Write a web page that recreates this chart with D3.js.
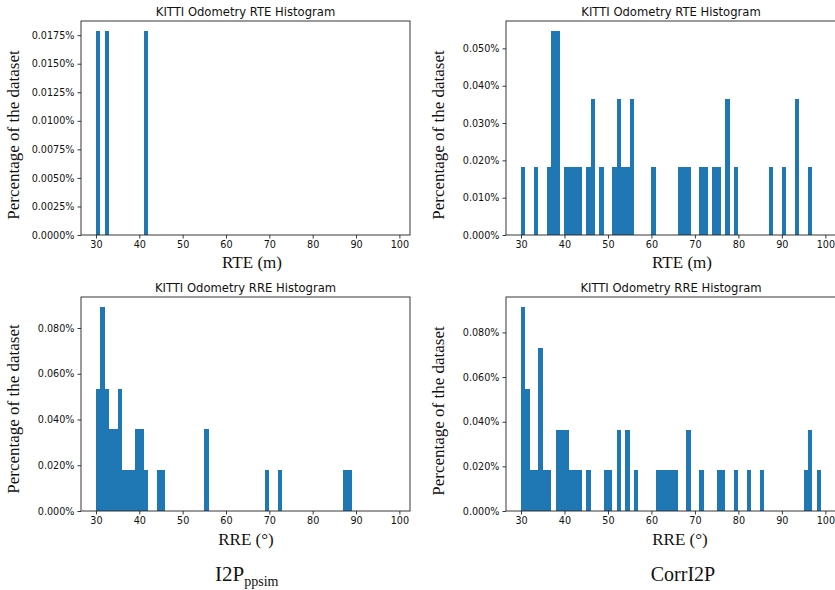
<!DOCTYPE html>
<html>
<head>
<meta charset="utf-8">
<script src="https://cdn.jsdelivr.net/npm/d3@7"></script>
<style>
  html, body { margin: 0; padding: 0; background: #fff; }
  svg { display: block; }
</style>
</head>
<body>
<svg id="chart" width="835" height="590"></svg>
<script>
// ---------- DATA (bin left edges, bin width 1, values in % of dataset) ----------
const rteI2PBins   = [30, 32, 41];
const rteI2PPct    = [0.01785, 0.01785, 0.01785];

const rteCorrBins  = [30, 33, 36, 37, 38, 40, 41, 42, 43, 45, 46, 48, 51, 52, 53, 54, 55, 60,
                      66, 67, 68, 71, 72, 74, 75, 77, 79, 87, 90, 93, 96];
const rteCorrPct   = [0.0182, 0.0182, 0.0182, 0.0546, 0.0546, 0.0182, 0.0182, 0.0182, 0.0182, 0.0182,
                      0.0364, 0.0182, 0.0182, 0.0364, 0.0182, 0.0182, 0.0364, 0.0182,
                      0.0182, 0.0182, 0.0182, 0.0182, 0.0182, 0.0182, 0.0182, 0.0364, 0.0182,
                      0.0182, 0.0182, 0.0364, 0.0182];

const rreI2PBins   = [30, 31, 32, 33, 34, 35, 36, 37, 38, 39, 40, 41, 44, 45, 55, 69, 72, 87, 88];
const rreI2PPct    = [0.0535, 0.0891, 0.0535, 0.0357, 0.0357, 0.0535, 0.0178, 0.0178, 0.0178,
                      0.0357, 0.0357, 0.0178, 0.0178, 0.0178, 0.0357, 0.0178, 0.0178, 0.0178, 0.0178];

const rreCorrBins  = [30, 31, 32, 33, 34, 35, 36, 38, 39, 40, 41, 42, 43, 45, 49, 50, 52, 54, 56,
                      61, 62, 63, 64, 65, 68, 71, 75, 76, 79, 82, 85, 95, 96, 98];
const rreCorrPct   = [0.0913, 0.0548, 0.0183, 0.0183, 0.0730, 0.0183, 0.0183, 0.0365, 0.0365, 0.0365,
                      0.0183, 0.0183, 0.0183, 0.0183, 0.0183, 0.0183, 0.0365, 0.0365, 0.0183,
                      0.0183, 0.0183, 0.0183, 0.0183, 0.0183, 0.0365, 0.0183, 0.0183, 0.0183,
                      0.0183, 0.0183, 0.0183, 0.0183, 0.0365, 0.0183];

const xTicks       = [30, 40, 50, 60, 70, 80, 90, 100];
const yTicksRteI2P = [0, 0.0025, 0.005, 0.0075, 0.01, 0.0125, 0.015, 0.0175];
const yTicksRteCor = [0, 0.01, 0.02, 0.03, 0.04, 0.05];
const yTicksRre    = [0, 0.02, 0.04, 0.06, 0.08];

const titleRTE = "KITTI Odometry RTE Histogram";
const titleRRE = "KITTI Odometry RRE Histogram";
const xLabelRTE = "RTE (m)";
const xLabelRRE = "RRE (°)";
const yLabel = "Percentage of the dataset";

// ---------- DRAWING ----------
const svg = d3.select("#chart");
const BAR = "#1f77b4";
const SANS = "DejaVu Sans, sans-serif";
const SERIF = "Liberation Serif, Times New Roman, serif";

function panel(o) {
  const x = d3.scaleLinear().domain([26.55, 102.45]).range([o.x0, o.x1]);
  const yMax = d3.max(o.pct) * 1.05;
  const y = d3.scaleLinear().domain([0, yMax]).range([o.y1, o.y0]);
  const g = svg.append("g");

  g.selectAll("rect.bar").data(o.bins.map((b, i) => ({b, v: o.pct[i]})))
    .enter().append("rect")
    .attr("x", d => x(d.b))
    .attr("width", d => x(d.b + 1) - x(d.b))
    .attr("y", d => y(d.v))
    .attr("height", d => y(0) - y(d.v))
    .attr("fill", BAR)
    .attr("shape-rendering", "crispEdges");

  // frame
  g.append("rect")
    .attr("x", o.x0).attr("y", o.y0)
    .attr("width", o.x1 - o.x0).attr("height", o.y1 - o.y0)
    .attr("fill", "none").attr("stroke", "#222").attr("stroke-width", 0.9);

  const xa = g.append("g").attr("transform", `translate(0,${o.y1})`)
    .call(d3.axisBottom(x).tickValues(xTicks).tickSize(3.5).tickPadding(3).tickFormat(d3.format("d")));
  const ya = g.append("g").attr("transform", `translate(${o.x0},0)`)
    .call(d3.axisLeft(y).tickValues(o.yTicks).tickSize(3.5).tickPadding(3)
      .tickFormat(d => d3.format(o.fmt)(d) + "%"));
  [xa, ya].forEach(a => {
    a.select(".domain").remove();
    a.selectAll("line").attr("stroke", "#222").attr("stroke-width", 0.9);
    a.selectAll("text").attr("font-family", SANS).attr("font-size", "9.65px").attr("fill", "#111");
  });

  g.append("text").attr("x", (o.x0 + Math.min(o.x1, 836)) / 2).attr("y", o.y0 - 5)
    .attr("text-anchor", "middle").attr("font-family", SANS).attr("font-size", "11.6px")
    .attr("fill", "#111").text(o.title);

  g.append("text").attr("x", o.xlx).attr("y", o.xly)
    .attr("text-anchor", "middle").attr("font-family", SERIF).attr("font-size", "17px")
    .attr("fill", "#111").text(o.xlabel);

  g.append("text").attr("transform", `translate(${o.ylx},${o.yly}) rotate(-90)`)
    .attr("text-anchor", "middle").attr("font-family", SERIF).attr("font-size", "17px")
    .attr("fill", "#111").text(yLabel);
}

panel({x0: 81, x1: 410, y0: 21, y1: 235, bins: rteI2PBins, pct: rteI2PPct,
       yTicks: yTicksRteI2P, fmt: ".4f", title: titleRTE, xlabel: xLabelRTE,
       xlx: 252, xly: 268, ylx: 19, yly: 135});
panel({x0: 506, x1: 836, y0: 21, y1: 235, bins: rteCorrBins, pct: rteCorrPct,
       yTicks: yTicksRteCor, fmt: ".3f", title: titleRTE, xlabel: xLabelRTE,
       xlx: 682, xly: 268, ylx: 444, yly: 135});
panel({x0: 81, x1: 410, y0: 297, y1: 511, bins: rreI2PBins, pct: rreI2PPct,
       yTicks: yTicksRre, fmt: ".3f", title: titleRRE, xlabel: xLabelRRE,
       xlx: 246, xly: 545, ylx: 19, yly: 409});
panel({x0: 506, x1: 836, y0: 297, y1: 511, bins: rreCorrBins, pct: rreCorrPct,
       yTicks: yTicksRre, fmt: ".3f", title: titleRRE, xlabel: xLabelRRE,
       xlx: 680, xly: 545, ylx: 444, yly: 411});

// method captions
const cap1 = svg.append("text").attr("x", 215).attr("y", 581)
  .attr("font-family", SERIF).attr("font-size", "21px").attr("fill", "#111");
cap1.append("tspan").text("I2P");
cap1.append("tspan").attr("font-size", "14px").attr("dy", 5).text("ppsim");

svg.append("text").attr("x", 683).attr("y", 581).attr("text-anchor", "middle")
  .attr("font-family", SERIF).attr("font-size", "20px").attr("fill", "#111").text("CorrI2P");
</script>
</body>
</html>
